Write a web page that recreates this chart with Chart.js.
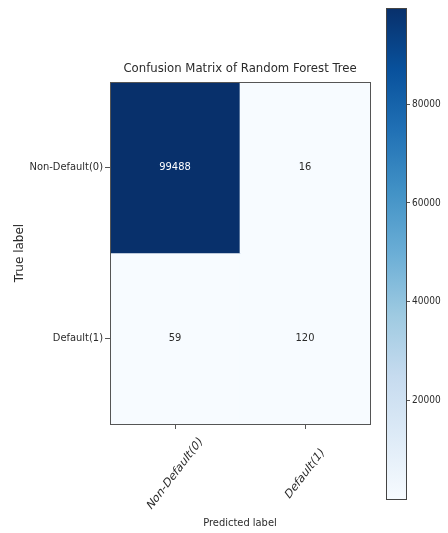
<!DOCTYPE html>
<html>
<head>
<meta charset="utf-8">
<script src="https://cdn.jsdelivr.net/npm/chart.js@4.4.1/dist/chart.umd.min.js"></script>
<style>
  html, body { margin: 0; padding: 0; background: #fff; }
  #wrap { position: relative; width: 448px; height: 533px; }
  #cm { position: absolute; left: 0; top: 0; }
  #cbar { position: absolute; left: 370px; top: 0; }
</style>
</head>
<body>
<div id="wrap">
  <canvas id="cm" width="448" height="533"></canvas>
  <canvas id="cbar" width="78" height="533"></canvas>
</div>
<script>
const trueLabels = ['Non-Default(0)', 'Default(1)'];
const predLabels = ['Non-Default(0)', 'Default(1)'];
// rows = true label, columns = predicted label
const counts = [
  [99488, 16],
  [59, 120],
];
const cbarTicks = [20000, 40000, 60000, 80000];
const titleText = 'Confusion Matrix of Random Forest Tree';

const FONT = "'DejaVu Sans Condensed', 'Liberation Sans Narrow', 'DejaVu Sans', sans-serif";
const WIDE = "'DejaVu Sans', sans-serif";
const INK = '#2b2b2b';

// matplotlib "Blues"
const BLUES = ['#f7fbff', '#deebf7', '#c6dbef', '#9ecae1', '#6baed6', '#4292c6', '#2171b5', '#08519c', '#08306b'];
const flat = counts.flat();
const vmin = Math.min(...flat);
const vmax = Math.max(...flat);

function hexToRgb(h) {
  return [1, 3, 5].map(i => parseInt(h.slice(i, i + 2), 16));
}
function blues(v) {
  const t = Math.max(0, Math.min(1, (v - vmin) / (vmax - vmin))) * (BLUES.length - 1);
  const i = Math.min(Math.floor(t), BLUES.length - 2);
  const f = t - i;
  const a = hexToRgb(BLUES[i]), b = hexToRgb(BLUES[i + 1]);
  const c = a.map((x, k) => Math.round(x + (b[k] - x) * f));
  return `rgb(${c[0]},${c[1]},${c[2]})`;
}

// frame around the plot area + title centred over it
const frame = {
  id: 'frame',
  afterDraw(chart) {
    const { ctx, chartArea: a } = chart;
    ctx.save();
    ctx.strokeStyle = '#555';
    ctx.lineWidth = 1;
    ctx.strokeRect(Math.round(a.left) + 0.5, Math.round(a.top) + 0.5,
      Math.round(a.right - a.left), Math.round(a.bottom - a.top));
    ctx.fillStyle = INK;
    ctx.font = `13px ${FONT}`;
    ctx.textAlign = 'center';
    ctx.textBaseline = 'middle';
    ctx.fillText(titleText, (a.left + a.right) / 2, a.top - 13);
    ctx.restore();
  },
};

// count written in the middle of each cell
const cellText = {
  id: 'cellText',
  afterDatasetsDraw(chart) {
    const { ctx } = chart;
    const thresh = vmax / 2;
    ctx.save();
    ctx.font = `11px ${FONT}`;
    ctx.textAlign = 'center';
    ctx.textBaseline = 'middle';
    chart.data.datasets.forEach((ds, r) => {
      chart.getDatasetMeta(r).data.forEach((bar, c) => {
        const v = counts[r][c];
        ctx.fillStyle = v > thresh ? '#fff' : INK;
        ctx.fillText(String(v), bar.x, (bar.y + bar.base) / 2);
      });
    });
    ctx.restore();
  },
};

// slanted predicted-label ticks, centred under their tick marks
const slantLabels = {
  id: 'slantLabels',
  afterDraw(chart) {
    const { ctx } = chart;
    const x = chart.scales.x;
    ctx.save();
    ctx.fillStyle = INK;
    ctx.font = `13px ${WIDE}`;
    ctx.textAlign = 'center';
    ctx.textBaseline = 'middle';
    predLabels.forEach((lab, i) => {
      ctx.save();
      ctx.translate(x.getPixelForTick(i), x.top + 50);
      ctx.scale(0.76, 1);
      ctx.rotate(-Math.PI / 4);
      ctx.fillText(lab, 0, 0);
      ctx.restore();
    });
    ctx.restore();
  },
};

// each true-label row is a floating bar spanning [row, row + 1] on the y scale
const datasets = trueLabels.map((lab, r) => ({
  label: lab,
  data: predLabels.map(() => [r, r + 1]),
  backgroundColor: counts[r].map(blues),
  borderWidth: 0,
  barPercentage: 1,
  categoryPercentage: 1,
  grouped: false,
}));

new Chart(document.getElementById('cm'), {
  type: 'bar',
  data: { labels: predLabels, datasets },
  plugins: [frame, cellText, slantLabels],
  options: {
    responsive: false,
    animation: false,
    layout: { padding: { left: 13, right: 78, top: 82, bottom: 3 } },
    plugins: {
      legend: { display: false },
      tooltip: { enabled: false },
      title: { display: false },
    },
    scales: {
      x: {
        offset: true,
        grid: { display: true, offset: false, drawOnChartArea: false, tickLength: 5, color: '#555' },
        border: { display: false },
        ticks: { display: false },
        title: {
          display: true, text: 'Predicted label', color: INK,
          font: { family: FONT, size: 11 }, padding: { top: 0, bottom: 0 },
        },
        afterFit(scale) { scale.height = 106; },
      },
      y: {
        min: 0,
        max: trueLabels.length,
        reverse: true,
        grid: { display: true, drawOnChartArea: false, tickLength: 5, color: '#555' },
        border: { display: false },
        afterBuildTicks(scale) {
          scale.ticks = trueLabels.map((_, i) => ({ value: i + 0.5 }));
        },
        ticks: {
          color: INK, font: { family: FONT, size: 11 }, padding: 2,
          callback: (v, i) => trueLabels[i],
        },
        title: {
          display: true, text: 'True label', color: INK,
          font: { family: WIDE, size: 12 }, padding: { top: 0, bottom: 6 },
        },
        afterFit(scale) { scale.width = 97; },
      },
    },
  },
});

// colour bar
const cbarFrame = {
  id: 'cbarFrame',
  afterDraw(chart) {
    const { ctx, chartArea: a } = chart;
    ctx.save();
    ctx.strokeStyle = '#444';
    ctx.lineWidth = 1;
    ctx.strokeRect(Math.round(a.left) + 0.5, Math.round(a.top) + 0.5,
      Math.round(a.right - a.left), Math.round(a.bottom - a.top));
    ctx.restore();
  },
};

new Chart(document.getElementById('cbar'), {
  type: 'bar',
  data: {
    labels: [''],
    datasets: [{
      data: [[vmin, vmax]],
      borderWidth: 0,
      barPercentage: 1,
      categoryPercentage: 1,
      backgroundColor(ctx) {
        const chart = ctx.chart;
        if (!chart.chartArea) return BLUES[4];
        const y = chart.scales.y;
        const g = chart.ctx.createLinearGradient(0, y.getPixelForValue(vmin), 0, y.getPixelForValue(vmax));
        BLUES.forEach((c, i) => g.addColorStop(i / (BLUES.length - 1), c));
        return g;
      },
    }],
  },
  plugins: [cbarFrame],
  options: {
    responsive: false,
    animation: false,
    layout: { padding: { left: 16, right: 0, top: 7, bottom: 34 } },
    plugins: { legend: { display: false }, tooltip: { enabled: false } },
    scales: {
      x: { display: false },
      y: {
        position: 'right',
        min: vmin,
        max: vmax,
        grid: { display: true, drawOnChartArea: false, tickLength: 4, color: '#555' },
        border: { display: false },
        afterBuildTicks(scale) {
          scale.ticks = cbarTicks.map(v => ({ value: v }));
        },
        ticks: {
          color: INK, font: { family: FONT, size: 10 }, padding: 2,
          callback: v => String(v),
        },
        afterFit(scale) { scale.width = 42; },
      },
    },
  },
});
</script>
</body>
</html>
